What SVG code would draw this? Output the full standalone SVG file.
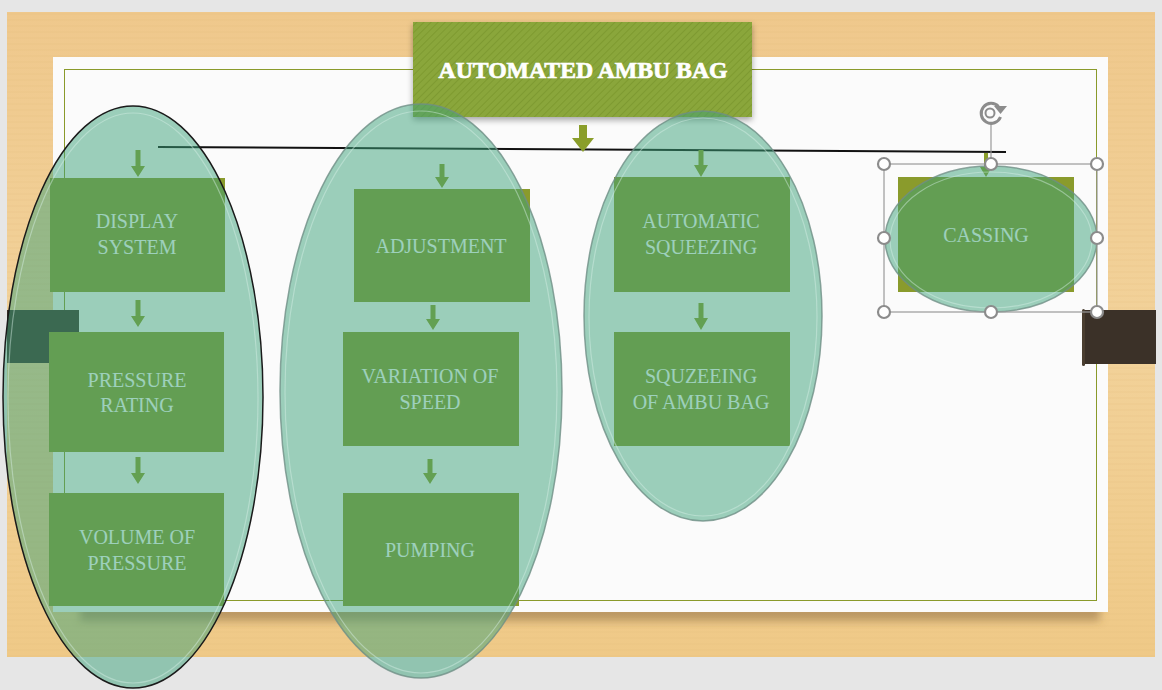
<svg xmlns="http://www.w3.org/2000/svg" width="1162" height="690" viewBox="0 0 1162 690">
<defs>
<linearGradient id="wood" x1="0" y1="0" x2="0" y2="1">
<stop offset="0" stop-color="#efc88c"/>
<stop offset="0.5" stop-color="#f2d29a"/>
<stop offset="1" stop-color="#efc987"/>
</linearGradient>
<pattern id="grain" width="40" height="6" patternUnits="userSpaceOnUse">
<rect width="40" height="6" fill="none"/>
<line x1="0" y1="2" x2="40" y2="2" stroke="#d9ad6a" stroke-opacity="0.18" stroke-width="1"/>
</pattern>
<pattern id="stripes" width="5" height="5" patternUnits="userSpaceOnUse" patternTransform="rotate(45)">
<rect width="5" height="5" fill="#8aa63b"/>
<line x1="0" y1="0" x2="0" y2="5" stroke="#7e9a30" stroke-width="2"/>
</pattern>
<filter id="shadow" x="-10%" y="-10%" width="120%" height="130%">
<feDropShadow dx="0" dy="3" stdDeviation="3" flood-color="#000" flood-opacity="0.35"/>
</filter>
<filter id="blur" x="-10%" y="-50%" width="120%" height="200%">
<feGaussianBlur stdDeviation="4"/>
</filter>
</defs>
<style>
.box{fill:#8a9b2c;}
.txt{font-family:"Liberation Serif","Times New Roman",serif;font-size:20px;fill:#ffffff;text-anchor:middle;}
.arrow{fill:#8a9e2a;}
.ell{fill:rgb(60,161,121);fill-opacity:0.5;}
.ring{fill:none;stroke:#6f8f86;stroke-width:1.5;stroke-opacity:0.8;}
.hl{fill:none;stroke:#d8f0e6;stroke-width:1.2;stroke-opacity:0.45;}
.handle{fill:#ffffff;stroke:#8c8c8c;stroke-width:2.2;}
.title{font-family:"Liberation Serif","Times New Roman",serif;font-size:23px;font-weight:900;fill:#ffffff;stroke:#ffffff;stroke-width:0.7;text-anchor:middle;}
</style>

<!-- background -->
<rect x="0" y="0" width="1162" height="690" fill="#e6e6e6"/>
<rect x="7" y="12" width="1148" height="645" fill="url(#wood)"/>
<rect x="7" y="12" width="1148" height="645" fill="url(#grain)"/>
<rect x="80" y="605" width="1020" height="16" fill="#7a5a30" fill-opacity="0.45" filter="url(#blur)"/>
<rect x="53" y="57" width="1055" height="555" fill="#fbfbfb"/>
<rect x="64.5" y="69.5" width="1032" height="531" fill="none" stroke="#8a9a2a" stroke-width="1"/>

<!-- side tabs -->
<rect x="7" y="310" width="72" height="53" fill="#3b3128"/>
<rect x="1083" y="310" width="73" height="54" fill="#3b3128"/>
<rect x="1082" y="309" width="3" height="57" rx="1.5" fill="#4a3e30"/>

<!-- title -->
<g id="title">
<rect x="413" y="22" width="339" height="95" fill="url(#stripes)" filter="url(#shadow)"/>
<text class="title" x="583" y="78" textLength="289" lengthAdjust="spacingAndGlyphs">AUTOMATED AMBU BAG</text>
</g>

<!-- connectors -->
<g id="connectors">
<line x1="158" y1="147" x2="1006" y2="152" stroke="#111" stroke-width="2"/>
<path class="arrow" d="M579,125 H587 V138 H594 L583,152 L572,138 H579 Z"/>
<path class="arrow" d="M135.5,150 H140.5 V166 H145 L138,177 L131,166 H135.5 Z"/>
<path class="arrow" d="M135.5,300 H140.5 V316 H145 L138,327 L131,316 H135.5 Z"/>
<path class="arrow" d="M135.5,457 H140.5 V473 H145 L138,484 L131,473 H135.5 Z"/>
<path class="arrow" d="M439.5,164 H444.5 V177 H449 L442,188 L435,177 H439.5 Z"/>
<path class="arrow" d="M430.5,305 H435.5 V319 H440 L433,330 L426,319 H430.5 Z"/>
<path class="arrow" d="M427.5,459 H432.5 V473 H437 L430,484 L423,473 H427.5 Z"/>
<path class="arrow" d="M698.5,150 H703.5 V165 H708 L701,177 L694,165 H698.5 Z"/>
<path class="arrow" d="M698.5,303 H703.5 V318 H708 L701,330 L694,318 H698.5 Z"/>
<path class="arrow" d="M984,153 H988 V167 H992 L986,177 L980,167 H984 Z"/>
</g>

<!-- nodes -->
<g id="display-system">
<rect class="box" x="50" y="178" width="175" height="114"/>
<text class="txt" x="137" y="228">DISPLAY</text>
<text class="txt" x="137" y="254">SYSTEM</text>
</g>
<g id="pressure-rating">
<rect class="box" x="49" y="332" width="175" height="120"/>
<text class="txt" x="137" y="387">PRESSURE</text>
<text class="txt" x="137" y="412">RATING</text>
</g>
<g id="volume-of-pressure">
<rect class="box" x="49" y="493" width="175" height="113"/>
<text class="txt" x="137" y="544">VOLUME OF</text>
<text class="txt" x="137" y="570">PRESSURE</text>
</g>
<g id="adjustment">
<rect class="box" x="354" y="189" width="176" height="113"/>
<text class="txt" x="441" y="253">ADJUSTMENT</text>
</g>
<g id="variation-of-speed">
<rect class="box" x="343" y="332" width="176" height="114"/>
<text class="txt" x="430" y="383">VARIATION OF</text>
<text class="txt" x="430" y="409">SPEED</text>
</g>
<g id="pumping">
<rect class="box" x="343" y="493" width="176" height="113"/>
<text class="txt" x="430" y="557">PUMPING</text>
</g>
<g id="automatic-squeezing">
<rect class="box" x="614" y="177" width="176" height="115"/>
<text class="txt" x="701" y="228">AUTOMATIC</text>
<text class="txt" x="701" y="254">SQUEEZING</text>
</g>
<g id="squzeeing-of-ambu-bag">
<rect class="box" x="614" y="332" width="176" height="114"/>
<text class="txt" x="701" y="383">SQUZEEING</text>
<text class="txt" x="701" y="409">OF AMBU BAG</text>
</g>
<g id="casing">
<rect class="box" x="898" y="177" width="176" height="115"/>
<text class="txt" x="986" y="242">CASSING</text>
</g>

<!-- translucent group ellipses -->
<g id="group-left">
<ellipse class="ell" cx="133" cy="397" rx="130" ry="291"/>
<ellipse class="hl" cx="133" cy="398" rx="125" ry="285"/>
<ellipse cx="133" cy="397" rx="130" ry="291" fill="none" stroke="#1a1a1a" stroke-width="1.5"/>
</g>
<g id="group-middle">
<ellipse class="ell" cx="421" cy="391" rx="141" ry="287"/>
<ellipse class="hl" cx="421" cy="392" rx="136" ry="281"/>
<ellipse class="ring" cx="421" cy="391" rx="141" ry="287"/>
</g>
<g id="group-right">
<ellipse class="ell" cx="703" cy="316" rx="119" ry="205"/>
<ellipse class="hl" cx="703" cy="317" rx="114" ry="199"/>
<ellipse class="ring" cx="703" cy="316" rx="119" ry="205"/>
</g>
<g id="group-casing">
<ellipse class="ell" cx="991" cy="239" rx="106" ry="73"/>
<ellipse class="hl" cx="991" cy="240" rx="101" ry="68"/>
<ellipse class="ring" cx="991" cy="239" rx="106" ry="73"/>
</g>

<!-- selection handles -->
<g id="selection">
<rect x="884" y="164" width="213" height="148" fill="none" stroke="#9a9a9a" stroke-width="1.2"/>
<line x1="991" y1="124" x2="991" y2="164" stroke="#9a9a9a" stroke-width="1.2"/>
<path d="M998.5,106.5 A10,10 0 1 0 1000.5,117" fill="none" stroke="#8c8c8c" stroke-width="3"/>
<path d="M994,106 L1007,106 L1000.5,114 Z" fill="#8c8c8c"/>
<circle cx="990" cy="113" r="4.5" fill="none" stroke="#8c8c8c" stroke-width="2"/>
<circle class="handle" cx="884" cy="164" r="6"/>
<circle class="handle" cx="991" cy="164" r="6"/>
<circle class="handle" cx="1097" cy="164" r="6"/>
<circle class="handle" cx="884" cy="238" r="6"/>
<circle class="handle" cx="1097" cy="238" r="6"/>
<circle class="handle" cx="884" cy="312" r="6"/>
<circle class="handle" cx="991" cy="312" r="6"/>
<circle class="handle" cx="1097" cy="312" r="6"/>
</g>
</svg>
